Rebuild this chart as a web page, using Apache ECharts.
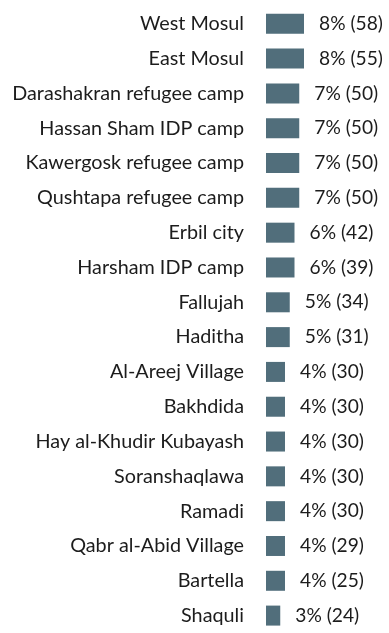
<!DOCTYPE html>
<html>
<head>
<meta charset="utf-8">
<script src="https://cdn.jsdelivr.net/npm/echarts@6/dist/echarts.min.js"></script>
<style>
  html, body { margin: 0; padding: 0; background: #fff; }
  #chart { width: 389px; height: 633px; }
</style>
</head>
<body>
<div id="chart"></div>
<script>
// Locations, listed top to bottom
const locations = [
  'West Mosul', 'East Mosul', 'Darashakran refugee camp', 'Hassan Sham IDP camp',
  'Kawergosk refugee camp', 'Qushtapa refugee camp', 'Erbil city', 'Harsham IDP camp',
  'Fallujah', 'Haditha', 'Al-Areej Village', 'Bakhdida', 'Hay al-Khudir Kubayash',
  'Soranshaqlawa', 'Ramadi', 'Qabr al-Abid Village', 'Bartella', 'Shaquli'
];
// Share of respondents (%) per location
const percents = [8, 8, 7, 7, 7, 7, 6, 6, 5, 5, 4, 4, 4, 4, 4, 4, 4, 3];
// Number of respondents per location
const counts = [58, 55, 50, 50, 50, 50, 42, 39, 34, 31, 30, 30, 30, 30, 30, 29, 25, 24];

const FONT = 'Lato';
const chart = echarts.init(document.getElementById('chart'));
chart.setOption({
  animation: false,
  grid: { left: 266, right: 28, top: 6.4, bottom: -7.4, containLabel: false },
  xAxis: {
    type: 'value', min: 0, max: 20, show: false
  },
  yAxis: {
    type: 'category', data: locations, inverse: true,
    axisLine: { show: false }, axisTick: { show: false }, splitLine: { show: false },
    axisLabel: {
      margin: 22, color: '#1c1c1c', fontFamily: FONT, fontSize: 19.8
    }
  },
  series: [{
    type: 'bar',
    data: percents,
    barWidth: 20,
    itemStyle: { color: '#516e7b' },
    label: {
      show: true, position: 'right', distance: 15,
      color: '#1c1c1c', fontFamily: FONT, fontSize: 19.2,
      formatter: p => percents[p.dataIndex] + '% (' + counts[p.dataIndex] + ')'
    }
  }]
});
</script>
</body>
</html>
